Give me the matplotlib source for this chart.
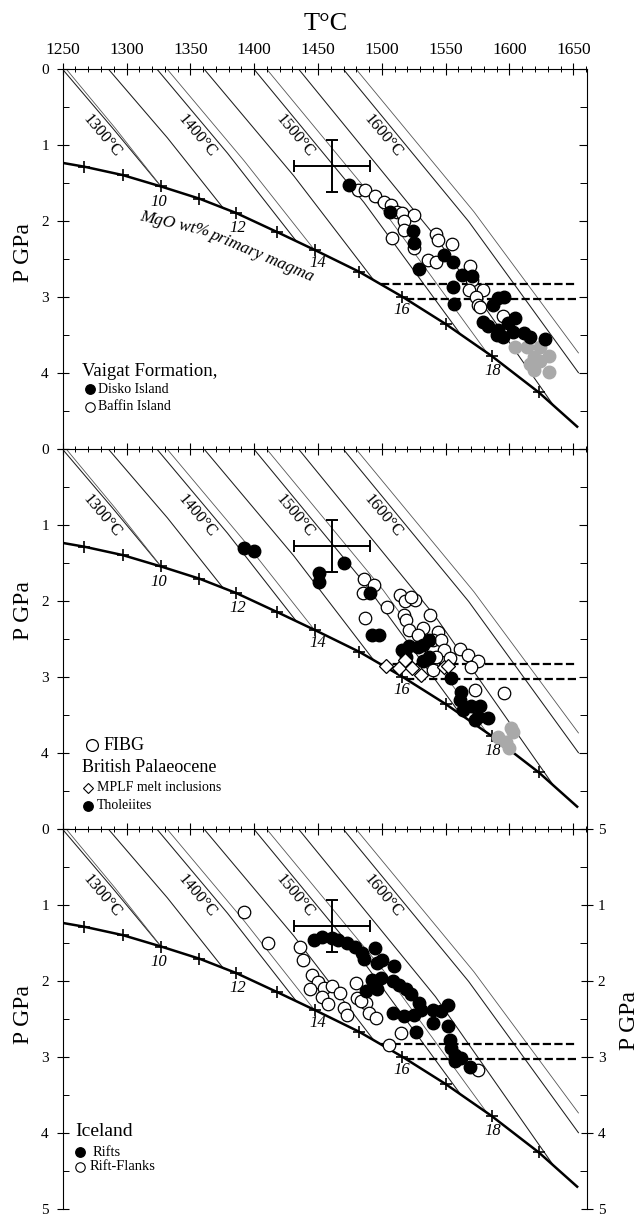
import matplotlib
matplotlib.use('Agg')
import matplotlib.pyplot as plt
from matplotlib.ticker import MultipleLocator

plt.rcParams['font.family'] = ['Liberation Serif', 'DejaVu Serif']

# bold MgO (wt%) curve of primary magma: T (C), P (GPa)
mgo_tick_T = [1267, 1297, 1327, 1357, 1386, 1418, 1448, 1482, 1516, 1550, 1586, 1623]
mgo_tick_P = [1.28, 1.39, 1.54, 1.70, 1.89, 2.14, 2.38, 2.66, 2.99, 3.35, 3.77, 4.25]
mgo_curve_T = [1250] + mgo_tick_T + [1653]
mgo_curve_P = [1.23] + mgo_tick_P + [4.70]
mgo_labels = ['10', '12', '14', '16', '18']
mgo_label_T = [1325, 1387, 1450, 1516, 1587]
mgo_label_P = [1.74, 2.08, 2.55, 3.16, 3.97]

# thin sloping lines (potential temperature grid)
tp_lines = [
    [(1250, 0), (1289, 0.77), (1327, 1.54)],
    [(1253, 0), (1291, 0.77), (1327, 1.54)],
    [(1286, 0), (1332, 0.90), (1376, 1.83)],
    [(1324, 0), (1379, 1.10), (1433, 2.26)],
    [(1332, 0), (1392, 1.20), (1447, 2.37)],
    [(1361, 0), (1431, 1.40), (1494, 2.78)],
    [(1400, 0), (1486, 1.75), (1561, 3.47)],
    [(1410, 0), (1501, 1.85), (1582, 3.72)],
    [(1435, 0), (1542, 2.20), (1634, 4.41)],
    [(1470, 0), (1568, 2.00), (1654, 3.99)],
    [(1480, 0), (1572, 1.87), (1654, 3.73)],
]
tp_thin = [False, True, False, False, True, False, False, True, False, False, True]
tp_names = ['1300°C', '1400°C', '1500°C', '1600°C']
tp_label_T = [1281, 1355, 1432, 1501]
tp_label_P = [0.88, 0.88, 0.88, 0.88]

# dashed horizontal lines
dash_P = [2.82, 3.02]
dash_T0 = [1499, 1519]
dash_T1 = [1653, 1653]

# uncertainty cross
err_T, err_P, err_dT, err_dP = 1461, 1.27, 30, 0.34

# panel 1: Vaigat Formation
disko_T = [1474, 1506, 1524.6, 1525.4, 1528.8, 1549, 1555.7, 1563, 1571, 1555.7, 1556.4,
           1591, 1596, 1587, 1579, 1583, 1591, 1590, 1599, 1604, 1603, 1611, 1616, 1628, 1595]
disko_P = [1.52, 1.88, 2.13, 2.29, 2.62, 2.44, 2.53, 2.70, 2.72, 2.86, 3.08,
           3.01, 3.00, 3.10, 3.32, 3.38, 3.43, 3.49, 3.34, 3.27, 3.45, 3.47, 3.52, 3.55, 3.52]
baffin_T = [1481, 1487, 1495, 1502, 1507, 1512, 1516, 1525, 1517.5, 1508, 1517.5, 1525,
            1542.5, 1544, 1555, 1536, 1542.5, 1569, 1571, 1568, 1579, 1573.5, 1575, 1577, 1595]
baffin_P = [1.585, 1.59, 1.67, 1.74, 1.78, 1.87, 1.89, 1.91, 2.00, 2.22, 2.11, 2.35,
            2.17, 2.25, 2.30, 2.51, 2.53, 2.59, 2.77, 2.90, 2.90, 2.99, 3.10, 3.13, 3.24]
vaigat_grey_T = [1604, 1613.5, 1624, 1619, 1630.6, 1616, 1624, 1619, 1630.6]
vaigat_grey_P = [3.65, 3.65, 3.65, 3.78, 3.77, 3.87, 3.84, 3.95, 3.98]

# panel 2: FIBG and British Palaeocene
fibg_T = [1486, 1494, 1485, 1487, 1504, 1514, 1518, 1526, 1523, 1517.5, 1519, 1521, 1538,
          1532, 1528, 1544, 1540, 1546, 1549, 1542.5, 1540, 1553, 1561, 1567.5, 1575, 1570,
          1573, 1596]
fibg_P = [1.70, 1.78, 1.89, 2.22, 2.07, 1.91, 2.00, 1.98, 1.94, 2.18, 2.24, 2.38, 2.18,
          2.35, 2.44, 2.40, 2.51, 2.51, 2.64, 2.73, 2.90, 2.75, 2.62, 2.70, 2.78, 2.86,
          3.16, 3.21]
mplf_T = [1503.6, 1513.6, 1518.3, 1524, 1530.7, 1549, 1552]
mplf_P = [2.85, 2.87, 2.77, 2.88, 2.97, 2.86, 2.85]
thol_T = [1392, 1400, 1451, 1451, 1470, 1491, 1492.5, 1498, 1516, 1521, 1528, 1532, 1537,
          1519, 1532, 1537, 1554, 1562, 1561, 1563.5, 1570, 1577, 1575.4, 1583, 1573]
thol_P = [1.30, 1.33, 1.63, 1.75, 1.50, 1.89, 2.44, 2.44, 2.64, 2.59, 2.60, 2.57, 2.51,
          2.73, 2.79, 2.73, 3.01, 3.19, 3.30, 3.43, 3.38, 3.38, 3.52, 3.54, 3.56]
brit_grey_T = [1591, 1601.5, 1597.5, 1600, 1603]
brit_grey_P = [3.78, 3.66, 3.85, 3.93, 3.72]

# panel 3: Iceland
rift_T = [1447, 1453, 1461, 1466, 1473, 1479, 1484.7, 1486, 1495, 1500.5, 1496.5, 1509.7,
          1492.6, 1499, 1487.3, 1496.5, 1508.4, 1513.6, 1519, 1522.8, 1529.4, 1530.7,
          1525.5, 1517.6, 1508.4, 1526.8, 1540, 1546.5, 1551.8, 1540, 1551.8, 1553,
          1554.4, 1557, 1557, 1562.3, 1569]
rift_P = [1.46, 1.42, 1.43, 1.45, 1.49, 1.54, 1.63, 1.71, 1.56, 1.72, 1.76, 1.80,
          1.98, 1.96, 2.13, 2.10, 2.00, 2.04, 2.10, 2.17, 2.28, 2.37,
          2.44, 2.46, 2.42, 2.66, 2.37, 2.39, 2.31, 2.55, 2.59, 2.77,
          2.88, 2.97, 3.05, 3.01, 3.13]
flank_T = [1392, 1411, 1436, 1438, 1445, 1450, 1455, 1444, 1453, 1458, 1461, 1479.4,
           1467.6, 1480.7, 1487.3, 1470.2, 1472.8, 1483.4, 1490, 1495.2, 1515, 1505.7, 1575]
flank_P = [1.08, 1.50, 1.55, 1.72, 1.91, 2.01, 2.08, 2.10, 2.21, 2.29, 2.06, 2.02,
           2.15, 2.22, 2.28, 2.35, 2.44, 2.26, 2.42, 2.48, 2.68, 2.83, 3.16]

GREY = '#a9a9a9'


def draw_base(ax):
    for pts, thin in zip(tp_lines, tp_thin):
        ax.plot([q[0] for q in pts], [q[1] for q in pts],
                color='#555555' if thin else '#1e1e1e', lw=0.6 if thin else 0.75, zorder=1)
    for s, t, p in zip(tp_names, tp_label_T, tp_label_P):
        ax.text(t, p, s, rotation=-50, rotation_mode='anchor', ha='center', va='center',
                fontsize=12, zorder=2)
    ax.plot(mgo_curve_T, mgo_curve_P, color='k', lw=1.8, zorder=2)
    ax.plot(mgo_tick_T, mgo_tick_P, 'k+', ms=9, mew=1.2, zorder=2)
    for s, t, p in zip(mgo_labels, mgo_label_T, mgo_label_P):
        ax.text(t, p, s, style='italic', fontsize=12, ha='center', va='center')
    for p, t0, t1 in zip(dash_P, dash_T0, dash_T1):
        ax.plot([t0, t1], [p, p], color='k', lw=1.6, ls=(0, (3.7, 1.5)), zorder=2)
    ax.errorbar(err_T, err_P, xerr=err_dT, yerr=err_dP, fmt='none', ecolor='k',
                elinewidth=1.4, capsize=4.5, capthick=1.4, zorder=4)


def style_axes(ax, first=False, last=False):
    ax.set_xlim(1250, 1660.5)
    ax.set_ylim(5, 0)
    ax.spines['bottom'].set_visible(False)
    ax.spines['right'].set_visible(False)
    ax.xaxis.set_ticks_position('top')
    ax.set_xticks(range(1250, 1651, 50))
    ax.xaxis.set_minor_locator(MultipleLocator(10))
    ax.tick_params(axis='x', which='major', direction='inout', length=8, width=0.8,
                   labeltop=first, labelsize=12.5, pad=4)
    ax.tick_params(axis='x', which='minor', direction='inout', length=5, width=0.7)
    ax.set_yticks(range(6))
    ax.set_yticklabels(['0', '1', '2', '3', '4', '5' if last else ''])
    ax.yaxis.set_minor_locator(MultipleLocator(0.5))
    ax.tick_params(axis='y', which='major', direction='inout', length=8, width=0.8,
                   labelsize=11, pad=6, right=False)
    ax.tick_params(axis='y', which='minor', direction='in', length=4, width=0.7, right=False)
    tw = ax.twinx()
    tw.set_ylim(5, 0)
    for side in ['top', 'left', 'bottom']:
        tw.spines[side].set_visible(False)
    tw.set_yticks(range(6))
    tw.yaxis.set_minor_locator(MultipleLocator(0.5))
    if last:
        tw.set_yticklabels(['5', '1', '2', '3', '4', '5'])
        tw.tick_params(axis='y', which='major', direction='inout', length=8, width=0.8,
                       labelsize=11, pad=4)
    else:
        tw.tick_params(axis='y', which='major', direction='in', length=6, width=0.8,
                       labelright=False)
    tw.tick_params(axis='y', which='minor', direction='in', length=5, width=0.7)


fig = plt.figure(figsize=(6.42, 12.18), dpi=100)
ax1 = fig.add_axes([0.0977, 0.6310, 0.8162, 0.3120])
ax2 = fig.add_axes([0.0977, 0.3190, 0.8162, 0.3120])
ax3 = fig.add_axes([0.0977, 0.0070, 0.8162, 0.3120])

for ax in (ax1, ax2, ax3):
    draw_base(ax)

# panel 1
ax1.text(1338, 2.04, 'MgO wt%', style='italic', fontsize=12.5, rotation=-13,
         rotation_mode='anchor', ha='center', va='center')
ax1.text(1406, 2.45, 'primary magma', style='italic', fontsize=12.5, rotation=-23,
         rotation_mode='anchor', ha='center', va='center')
ax1.plot(vaigat_grey_T, vaigat_grey_P, 'o', ms=9, mfc=GREY, mec=GREY, zorder=3)
ax1.plot(baffin_T, baffin_P, 'o', ms=9, mfc='white', mec='k', mew=0.9, zorder=3)
ax1.plot(disko_T, disko_P, 'o', ms=9, mfc='k', mec='k', zorder=3)
ax1.text(1265, 3.97, 'Vaigat Formation,', fontsize=13.5, ha='left', va='center')
ax1.plot([1271], [4.21], 'o', ms=6.8, mfc='k', mec='k')
ax1.text(1278, 4.21, 'Disko Island', fontsize=10, ha='left', va='center')
ax1.plot([1271], [4.44], 'o', ms=6.8, mfc='white', mec='k', mew=0.8)
ax1.text(1278, 4.44, 'Baffin Island', fontsize=10, ha='left', va='center')

# panel 2
ax2.plot(brit_grey_T, brit_grey_P, 'o', ms=9, mfc=GREY, mec=GREY, zorder=3)
ax2.plot(fibg_T, fibg_P, 'o', ms=9, mfc='white', mec='k', mew=0.9, zorder=3)
ax2.plot(thol_T, thol_P, 'o', ms=9, mfc='k', mec='k', zorder=3)
ax2.plot(mplf_T, mplf_P, 'D', ms=7, mfc='white', mec='k', mew=0.9, zorder=3)
ax2.plot([1273], [3.89], 'o', ms=8.5, mfc='white', mec='k', mew=0.9)
ax2.text(1282, 3.89, 'FIBG', fontsize=13, ha='left', va='center')
ax2.text(1265, 4.19, 'British Palaeocene', fontsize=13, ha='left', va='center')
ax2.plot([1270], [4.45], 'D', ms=5.5, mfc='white', mec='k', mew=0.8)
ax2.text(1277, 4.45, 'MPLF melt inclusions', fontsize=10, ha='left', va='center')
ax2.plot([1270], [4.69], 'o', ms=6.8, mfc='k', mec='k')
ax2.text(1277, 4.69, 'Tholeiites', fontsize=10, ha='left', va='center')

# panel 3
ax3.plot(flank_T, flank_P, 'o', ms=9, mfc='white', mec='k', mew=0.9, zorder=3)
ax3.plot(rift_T, rift_P, 'o', ms=9, mfc='k', mec='k', zorder=3)
ax3.text(1260, 3.98, 'Iceland', fontsize=14, ha='left', va='center')
ax3.plot([1263.5], [4.25], 'o', ms=6.8, mfc='k', mec='k')
ax3.text(1273.7, 4.25, 'Rifts', fontsize=10.5, ha='left', va='center')
ax3.plot([1263.5], [4.44], 'o', ms=6.8, mfc='white', mec='k', mew=0.8)
ax3.text(1270.8, 4.44, 'Rift-Flanks', fontsize=10.5, ha='left', va='center')

style_axes(ax1, first=True)
style_axes(ax2)
style_axes(ax3, last=True)

fig.text(0.507, 0.9805, 'T°C', fontsize=19, ha='center', va='center')
for y in (0.793, 0.499, 0.167):
    fig.text(0.037, y, 'P GPa', rotation=90, fontsize=17, ha='center', va='center')
fig.text(0.981, 0.162, 'P GPa', rotation=90, fontsize=17, ha='center', va='center')

fig.savefig('out.png', dpi=100)
